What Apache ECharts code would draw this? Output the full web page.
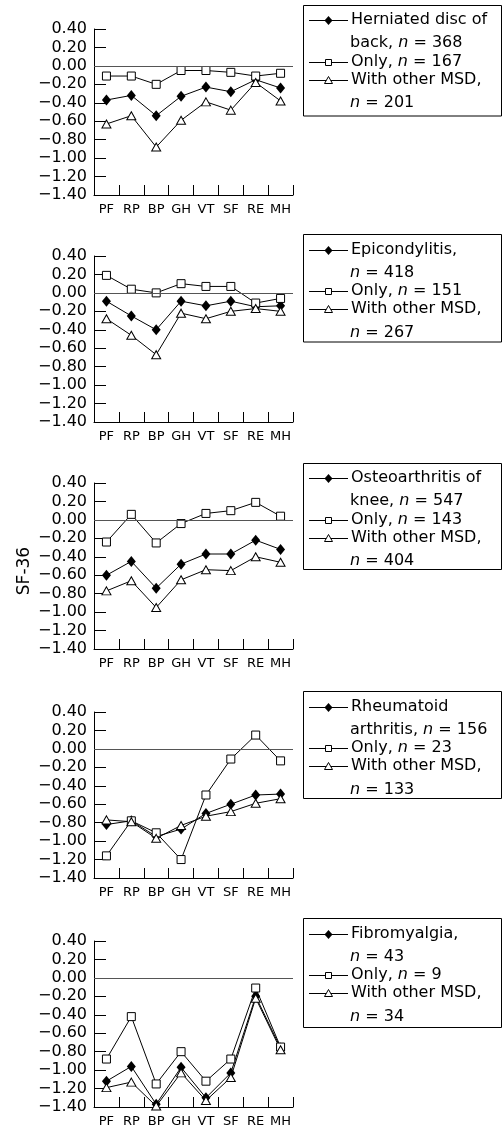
<!DOCTYPE html>
<html>
<head>
<meta charset="utf-8">
<script src="https://cdn.jsdelivr.net/npm/echarts@6/dist/echarts.min.js"></script>
<style>
html,body{margin:0;padding:0;background:#fff;}
#chart{width:503px;height:1130px;}
</style>
</head>
<body>
<div id="chart"></div>
<script>
// ---- data ----
const categories = ['PF', 'RP', 'BP', 'GH', 'VT', 'SF', 'RE', 'MH'];
const yMin = -1.4, yMax = 0.4, yStep = 0.2;

const herniatedAll   = [-0.37, -0.32, -0.54, -0.33, -0.23, -0.28, -0.15, -0.24];
const herniatedOnly  = [-0.11, -0.11, -0.20, -0.05, -0.05, -0.07, -0.11, -0.08];
const herniatedOther = [-0.63, -0.54, -0.88, -0.59, -0.39, -0.48, -0.18, -0.38];

const epiAll   = [-0.09, -0.25, -0.40, -0.09, -0.14, -0.09, -0.15, -0.14];
const epiOnly  = [0.19, 0.04, 0.00, 0.10, 0.07, 0.07, -0.11, -0.06];
const epiOther = [-0.28, -0.46, -0.67, -0.22, -0.28, -0.20, -0.17, -0.20];

const oaAll   = [-0.60, -0.45, -0.74, -0.48, -0.37, -0.37, -0.22, -0.32];
const oaOnly  = [-0.24, 0.06, -0.25, -0.04, 0.07, 0.10, 0.19, 0.04];
const oaOther = [-0.77, -0.66, -0.95, -0.65, -0.54, -0.55, -0.40, -0.46];

const raAll   = [-0.82, -0.78, -0.95, -0.87, -0.70, -0.60, -0.50, -0.49];
const raOnly  = [-1.16, -0.78, -0.91, -1.20, -0.50, -0.11, 0.15, -0.13];
const raOther = [-0.77, -0.79, -0.97, -0.83, -0.73, -0.68, -0.59, -0.54];

const fibAll   = [-1.12, -0.96, -1.37, -0.97, -1.30, -1.03, -0.20, -0.76];
const fibOnly  = [-0.88, -0.42, -1.15, -0.80, -1.12, -0.88, -0.11, -0.75];
const fibOther = [-1.19, -1.13, -1.39, -1.03, -1.33, -1.08, -0.22, -0.78];

const legendAll   = [['Herniated disc of', 'back, n = 368'], ['Epicondylitis,', 'n = 418'], ['Osteoarthritis of', 'knee, n = 547'], ['Rheumatoid', 'arthritis, n = 156'], ['Fibromyalgia,', 'n = 43']];
const legendOnly  = ['Only, n = 167', 'Only, n = 151', 'Only, n = 143', 'Only, n = 23', 'Only, n = 9'];
const legendOther = [['With other MSD,', 'n = 201'], ['With other MSD,', 'n = 267'], ['With other MSD,', 'n = 404'], ['With other MSD,', 'n = 133'], ['With other MSD,', 'n = 34']];
const yAxisTitle = 'SF-36';

const panels = [
  [herniatedAll, herniatedOnly, herniatedOther],
  [epiAll, epiOnly, epiOther],
  [oaAll, oaOnly, oaOther],
  [raAll, raOnly, raOther],
  [fibAll, fibOnly, fibOther]
];

// ---- layout ----
const FONT = 'DejaVu Sans';
const gridTops = [29, 256, 483, 712, 941];
const gridLeft = 94, gridWidth = 199, gridHeight = 166;
const boxTops = [4.5, 234, 462.5, 691, 918];
const boxHeights = [110.5, 107.5, 106, 107, 109];
const lineOffsets = [15.5, 38.5, 57, 75, 98.5];

const grids = [], xAxes = [], yAxes = [], series = [], graphics = [];

function fmt(v) {
  const s = Math.abs(v).toFixed(2);
  return (v < -1e-9 ? '\u2212' : '') + s;
}
function rich(t) {
  return t.replace(/\bn =/g, '{i|n} =');
}
const baseText = { fontSize: 16, fontFamily: FONT, fill: '#000' };
const richDef = { i: { fontSize: 16, fontFamily: FONT, fontStyle: 'italic', fill: '#000' } };

panels.forEach((p, k) => {
  grids.push({ left: gridLeft, top: gridTops[k], width: gridWidth, height: gridHeight, containLabel: false });
  xAxes.push({
    type: 'category', gridIndex: k, data: categories, boundaryGap: true, position: 'bottom',
    axisLine: { show: true, onZero: false, lineStyle: { color: '#000', width: 1 } },
    axisTick: { show: true, inside: true, length: 10, interval: 0, lineStyle: { color: '#000', width: 1 } },
    axisLabel: { color: '#000', fontSize: 13, fontFamily: FONT, margin: 8, interval: 0 },
    splitLine: { show: false }
  });
  yAxes.push({
    type: 'value', gridIndex: k, min: yMin, max: yMax, interval: yStep, position: 'left',
    axisLine: { show: true, onZero: false, lineStyle: { color: '#000', width: 1 } },
    axisTick: { show: true, inside: true, length: 12, lineStyle: { color: '#000', width: 1 } },
    axisLabel: { color: '#000', fontSize: 16, fontFamily: FONT, margin: 7, formatter: fmt },
    splitLine: { show: false }
  });
  const common = { type: 'line', xAxisIndex: k, yAxisIndex: k, clip: false, animation: false,
    lineStyle: { color: '#000', width: 1 } };
  series.push(Object.assign({}, common, {
    name: legendAll[k].join(' '), data: p[0], symbol: 'diamond', symbolSize: [9, 11],
    itemStyle: { color: '#000' }, z: 3,
    markLine: { silent: true, symbol: 'none', label: { show: false }, animation: false,
      lineStyle: { color: '#555', type: 'solid', width: 1 }, data: [{ yAxis: 0 }] }
  }));
  series.push(Object.assign({}, common, {
    name: legendOnly[k], data: p[1], symbol: 'rect', symbolSize: 8,
    itemStyle: { color: '#fff', borderColor: '#000', borderWidth: 1 }, z: 4
  }));
  series.push(Object.assign({}, common, {
    name: legendOther[k].join(' '), data: p[2], symbol: 'triangle', symbolSize: [9, 8],
    itemStyle: { color: '#fff', borderColor: '#000', borderWidth: 1 }, z: 4
  }));

  // legend box
  const T = boxTops[k];
  graphics.push({ type: 'rect', shape: { x: 303.5, y: Math.round(T) + 0.5, width: 198, height: boxHeights[k] },
    style: { fill: '#fff', stroke: '#000', lineWidth: 1 }, z: 10 });
  const ys = lineOffsets.map(o => T + o);
  const texts = [legendAll[k][0], legendAll[k][1], legendOnly[k], legendOther[k][0], legendOther[k][1]];
  texts.forEach((t, i) => {
    graphics.push({ type: 'text', x: i === 1 || i === 4 ? 350 : 351, y: ys[i], z: 11,
      style: Object.assign({}, baseText, { text: rich(t), rich: richDef, verticalAlign: 'middle', align: 'left' }) });
  });
  [0, 2, 3].forEach((li, j) => {
    const y = Math.round(ys[li]) + 0.5;
    graphics.push({ type: 'line', shape: { x1: 309, y1: y, x2: 348, y2: y }, style: { stroke: '#000', lineWidth: 1 }, z: 11 });
    if (j === 0) {
      graphics.push({ type: 'polygon', shape: { points: [[328.5, y - 4.5], [332.5, y], [328.5, y + 4.5], [324.5, y]] },
        style: { fill: '#000' }, z: 12 });
    } else if (j === 1) {
      graphics.push({ type: 'rect', shape: { x: 325.5, y: y - 3, width: 6, height: 6 },
        style: { fill: '#fff', stroke: '#000', lineWidth: 1 }, z: 12 });
    } else {
      graphics.push({ type: 'polygon', shape: { points: [[328.5, y - 4], [332.5, y + 3], [324.5, y + 3]] },
        style: { fill: '#fff', stroke: '#000', lineWidth: 1 }, z: 12 });
    }
  });
});

graphics.push({ type: 'text', x: 25, y: 571, rotation: Math.PI / 2, z: 11,
  style: { text: yAxisTitle, fontSize: 17, fontFamily: FONT, fill: '#000', align: 'center', verticalAlign: 'middle' } });

const chart = echarts.init(document.getElementById('chart'), null, { renderer: 'canvas' });
chart.setOption({
  backgroundColor: '#fff',
  animation: false,
  grid: grids,
  xAxis: xAxes,
  yAxis: yAxes,
  series: series,
  graphic: { elements: graphics }
});
</script>
</body>
</html>
